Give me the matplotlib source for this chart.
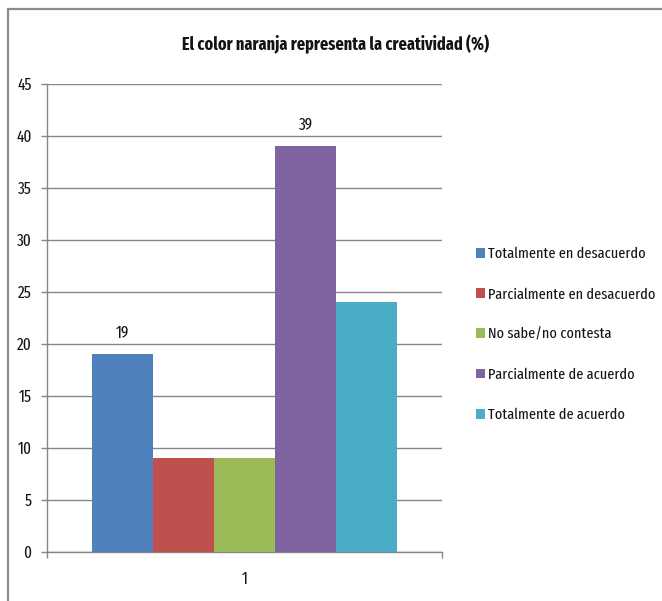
import matplotlib
matplotlib.use("Agg")
import matplotlib.pyplot as plt
from matplotlib.patches import Rectangle, Patch

# Data
categories = ["1"]
series_names = [
    "Totalmente en desacuerdo",
    "Parcialmente en desacuerdo",
    "No sabe/no contesta",
    "Parcialmente de acuerdo",
    "Totalmente de acuerdo",
]
series_values = [19, 9, 9, 39, 24]
labelled_series = [0, 3]
yticks = [0, 5, 10, 15, 20, 25, 30, 35, 40, 45]
title = "El color naranja representa la creatividad (%)"

colors = ["#4F81BD", "#C0504D", "#9BBB59", "#8064A2", "#4BACC6"]
grid_color = "#868686"
text_color = "#141414"

plt.rcParams["font.family"] = ["Fira Sans Extra Condensed", "Carlito", "DejaVu Sans"]

W, H = 662, 601
fig = plt.figure(figsize=(W / 100, H / 100), dpi=100)

# outer chart frame
fig.patches.append(Rectangle((7.5 / W, -0.05), 1.2, 1 - 9.5 / H + 0.05,
                             transform=fig.transFigure, fill=False,
                             edgecolor="#8C8C8C", linewidth=1.6, zorder=0))

left, right, top, bottom = 47, 442, 84, 552
ax = fig.add_axes([left / W, 1 - bottom / H, (right - left) / W, (bottom - top) / H])

n = len(series_values)
group_frac = 0.772
bw = group_frac / n
for i, (name, v, c) in enumerate(zip(series_names, series_values, colors)):
    x = (i - (n - 1) / 2) * bw
    ax.bar(x, v, width=bw, color=c, label=name, zorder=3, linewidth=0)
    if i in labelled_series:
        ax.annotate(f"{v}", (x, v), xytext=(0, 15.5), textcoords="offset points",
                    ha="center", va="center", fontsize=12, color=text_color)

ax.set_xlim(-0.5, 0.5)
ax.set_ylim(0, 45)
ax.set_yticks(yticks)
ax.set_yticklabels([str(t) for t in yticks], fontsize=12, color=text_color)
ax.yaxis.grid(True, color=grid_color, linewidth=1.0, zorder=0)
ax.set_axisbelow(True)

ax.set_xticks([0])
ax.set_xticklabels(categories, fontsize=12, color=text_color)
ax.set_xticks([-0.5, 0.5], minor=True)
ax.tick_params(axis="x", which="major", length=0, pad=14)
ax.tick_params(axis="x", which="minor", length=4, color=grid_color, width=1.0)
ax.tick_params(axis="y", length=4, color=grid_color, width=1.0, pad=7)

for s in ["top", "right"]:
    ax.spines[s].set_visible(False)
for s in ["left", "bottom"]:
    ax.spines[s].set_color(grid_color)
    ax.spines[s].set_linewidth(1.0)

fig.text(336 / W, 1 - 44 / H, title, ha="center", va="center",
         fontsize=12.7, fontweight="bold", color=text_color)

handles = [Patch(facecolor=c, edgecolor="none") for c in colors]
fig.legend(handles, series_names, loc="upper left",
           bbox_to_anchor=(476 / W, 1 - 247 / H), frameon=False,
           fontsize=11.2, handlelength=0.58, handleheight=0.58,
           handletextpad=0.2, labelspacing=1.67, borderaxespad=0,
           borderpad=0, labelcolor=text_color)

fig.savefig("out.png", dpi=100)
